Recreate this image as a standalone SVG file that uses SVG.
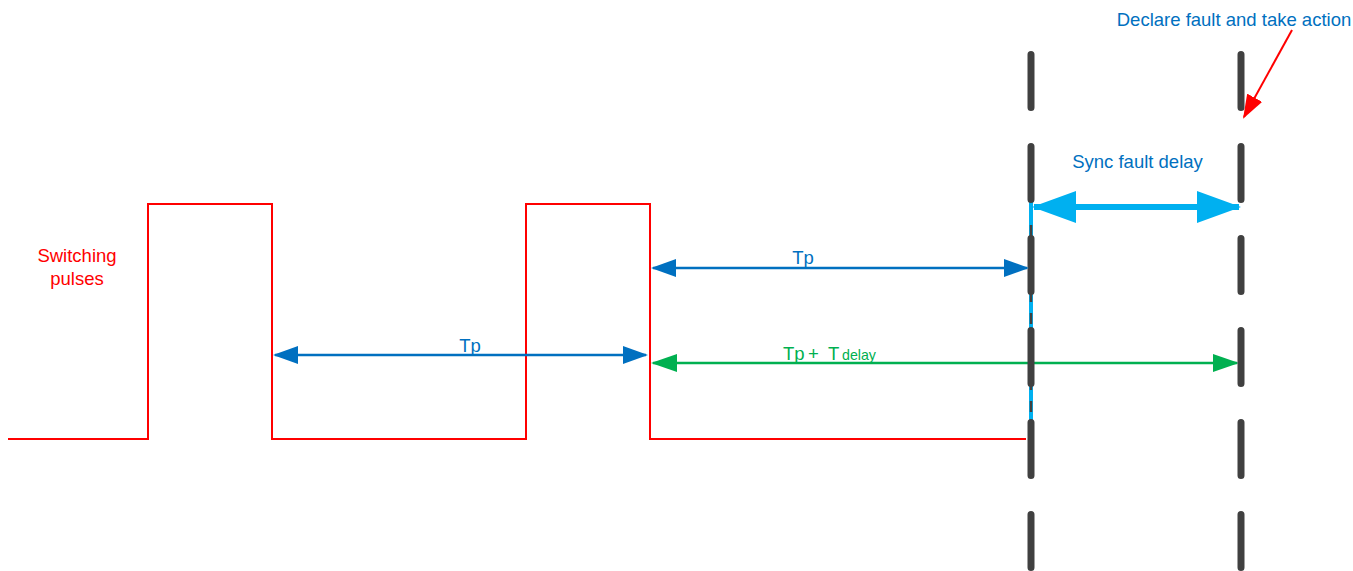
<svg xmlns="http://www.w3.org/2000/svg" width="1353" height="571" viewBox="0 0 1353 571">
<style>
  text { font-family: "Liberation Sans", Arial, sans-serif; font-size: 18.5px; }
  .blue-t { fill: #0070C0; }
  .green-t { fill: #00B050; }
  .red-t { fill: #FF0000; }
  .wave { fill: none; stroke: #FF0000; stroke-width: 2; }
  .dash { stroke: #404040; stroke-width: 7; stroke-linecap: round; stroke-dasharray: 53 39; }
  .tp { stroke: #0070C0; stroke-width: 2.5; fill: none; }
  .tpd { stroke: #00B050; stroke-width: 2.5; fill: none; }
  .sync { stroke: #00B0F0; stroke-width: 6; fill: none; }
  .ptr { stroke: #FF0000; stroke-width: 2; fill: none; }
</style>
<defs>
  <marker id="ahBlue" viewBox="0 0 25 18" refX="23" refY="9" markerWidth="25" markerHeight="18" markerUnits="userSpaceOnUse" orient="auto-start-reverse">
    <path d="M0,0 L25,9 L0,18 z" fill="#0070C0"/>
  </marker>
  <marker id="ahGreen" viewBox="0 0 26 18" refX="24" refY="9" markerWidth="26" markerHeight="18" markerUnits="userSpaceOnUse" orient="auto-start-reverse">
    <path d="M0,0 L26,9 L0,18 z" fill="#00B050"/>
  </marker>
  <marker id="ahSync" viewBox="0 0 44 32" refX="42" refY="16" markerWidth="44" markerHeight="32" markerUnits="userSpaceOnUse" orient="auto-start-reverse">
    <path d="M0,0 L44,16 L0,32 z" fill="#00B0F0"/>
  </marker>
  <marker id="ahRed" viewBox="0 0 24 17" refX="22" refY="8.5" markerWidth="24" markerHeight="17" markerUnits="userSpaceOnUse" orient="auto">
    <path d="M0,0 L24,8.5 L0,17 z" fill="#FF0000"/>
  </marker>
</defs>

<g id="switching-pulses">
  <polyline class="wave" points="8,439 148,439 148,204 272,204 272,439 526,439 526,204 650,204 650,439 1026,439"/>
  <text class="red-t" x="77" y="262" text-anchor="middle">Switching</text>
  <text class="red-t" x="77" y="285" text-anchor="middle">pulses</text>
</g>

<g id="connectors">
  <line class="tpd" x1="653" y1="363" x2="1237" y2="363" marker-start="url(#ahGreen)" marker-end="url(#ahGreen)"/>
  <line x1="1031" y1="201" x2="1031" y2="425" stroke="#00B0F0" stroke-width="4"/>
  <line x1="1031" y1="225" x2="1031" y2="425" stroke="#404040" stroke-width="2.5" stroke-dasharray="11 11"/>
</g>

<g id="fault-detect-line">
  <line class="dash" x1="1031" y1="54.5" x2="1031" y2="600"/>
</g>
<g id="fault-action-line">
  <line class="dash" x1="1241" y1="54.5" x2="1241" y2="600"/>
</g>

<g id="connectors-top">
  <line class="tp" x1="275" y1="355" x2="646" y2="355" marker-start="url(#ahBlue)" marker-end="url(#ahBlue)"/>
  <line class="tp" x1="653" y1="268" x2="1027" y2="268" marker-start="url(#ahBlue)" marker-end="url(#ahBlue)"/>
  <line class="sync" x1="1034" y1="207" x2="1239" y2="207" marker-start="url(#ahSync)" marker-end="url(#ahSync)"/>
  <line class="ptr" x1="1292" y1="30" x2="1244" y2="117" marker-end="url(#ahRed)"/>
</g>

<g id="labels">
  <text class="blue-t" x="470" y="352" text-anchor="middle">Tp</text>
  <text class="blue-t" x="803" y="264" text-anchor="middle">Tp</text>
  <text class="green-t" x="783" y="360">Tp<tspan x="808">+</tspan><tspan x="828">T</tspan><tspan x="842" style="font-size:14.2px">delay</tspan></text>
  <text class="blue-t" x="1137.5" y="168" text-anchor="middle">Sync fault delay</text>
  <text class="blue-t" x="1234" y="26" text-anchor="middle">Declare fault and take action</text>
</g>
</svg>
